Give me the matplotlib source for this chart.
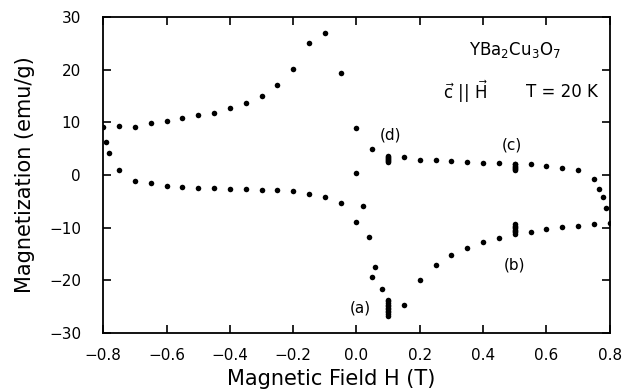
import matplotlib
matplotlib.use("Agg")
import matplotlib.pyplot as plt
import numpy as np

# upper branch (field sweeping down from +0.8 T to -0.8 T)
H_down = [0.80, 0.789, 0.778, 0.767, 0.75, 0.70, 0.65, 0.60, 0.55,
          0.50, 0.50, 0.50, 0.50, 0.50, 0.50, 0.50,
          0.45, 0.40, 0.35, 0.30, 0.25, 0.20, 0.15,
          0.10, 0.10, 0.10, 0.10, 0.10, 0.10, 0.10,
          0.05, 0.0, -0.05, -0.10, -0.15, -0.20, -0.25, -0.30, -0.35,
          -0.40, -0.45, -0.50, -0.55, -0.60, -0.65, -0.70, -0.75, -0.80]
M_down = [-9.1, -6.3, -4.1, -2.7, -0.8, 0.9, 1.4, 1.8, 2.0,
          1.0, 1.2, 1.4, 1.6, 1.8, 2.0, 2.1,
          2.2, 2.3, 2.4, 2.6, 2.8, 2.85, 3.5,
          2.5, 2.7, 2.9, 3.1, 3.3, 3.5, 3.7,
          5.0, 8.85, 19.4, 27.0, 25.1, 20.1, 17.0, 15.0, 13.7,
          12.65, 11.8, 11.3, 10.8, 10.3, 9.9, 9.1, 9.3, 9.1]

# lower branch (field sweeping up from -0.8 T to +0.8 T)
H_up = [-0.79, -0.781, -0.751, -0.70, -0.65, -0.60, -0.55, -0.50, -0.45,
        -0.40, -0.35, -0.30, -0.25, -0.20, -0.15, -0.10, -0.05, 0.0,
        0.02, 0.0, 0.04, 0.06, 0.05, 0.08,
        0.10, 0.10, 0.10, 0.10, 0.10, 0.10, 0.10, 0.10, 0.10, 0.10, 0.10,
        0.15, 0.20, 0.25, 0.30, 0.35, 0.40, 0.45,
        0.50, 0.50, 0.50, 0.50, 0.50, 0.50, 0.50, 0.50,
        0.55, 0.60, 0.65, 0.70, 0.75]
M_up = [6.25, 4.2, 0.9, -1.1, -1.6, -2.0, -2.3, -2.4, -2.5,
        -2.6, -2.7, -2.8, -2.9, -3.0, -3.6, -4.1, -5.3, 0.3,
        -5.9, -8.9, -11.8, -17.4, -19.4, -21.7,
        -23.7, -24.0, -24.3, -24.6, -24.9, -25.2, -25.5, -25.8, -26.1, -26.4, -26.7,
        -24.6, -20.0, -17.1, -15.1, -13.8, -12.8, -11.9,
        -9.4, -9.65, -9.9, -10.15, -10.4, -10.65, -10.9, -11.2,
        -10.8, -10.3, -9.9, -9.6, -9.4]

xticks = [-0.8, -0.6, -0.4, -0.2, 0.0, 0.2, 0.4, 0.6, 0.8]
yticks = [-30, -20, -10, 0, 10, 20, 30]

plt.rcParams['font.family'] = ['DejaVu Sans']

fig = plt.figure(figsize=(6.29, 3.89), dpi=100)
ax = fig.add_axes([0.1642, 0.144, 0.8051, 0.8123])

ax.plot(H_down, M_down, 'o', color='black', ms=4.0, mec='none')
ax.plot(H_up, M_up, 'o', color='black', ms=4.0, mec='none')

ax.set_xlim(-0.8, 0.8)
ax.set_ylim(-30, 30)
ax.set_xticks(xticks)
ax.set_yticks(yticks)
ax.set_xticklabels([f"{t:.1f}".replace('-', '\u2212') for t in xticks])
ax.tick_params(direction='in', length=6, width=1.2, top=True, right=True,
               labelsize=11)
ax.tick_params(axis='x', pad=11)
ax.tick_params(axis='y', pad=16)
for s in ax.spines.values():
    s.set_linewidth(1.3)

ax.set_xlabel('Magnetic Field H (T)', fontsize=15)
ax.set_ylabel('Magnetization (emu/g)', fontsize=15)
ax.xaxis.set_label_coords(0.45, -0.115)
ax.yaxis.set_label_coords(-0.135, 0.5)

ax.text(0.50, 23.7, r'YBa$_2$Cu$_3$O$_7$', fontsize=12, ha='center', va='center')
ax.text(0.345, 15.8, r'$\vec{\mathrm{c}}\ ||\ \vec{\mathrm{H}}$', fontsize=12,
        ha='center', va='center')
ax.text(0.649, 15.8, 'T = 20 K', fontsize=12, ha='center', va='center')

ax.text(0.106, 7.6, '(d)', fontsize=11, ha='center', va='center')
ax.text(0.49, 5.7, '(c)', fontsize=11, ha='center', va='center')
ax.text(0.50, -17.1, '(b)', fontsize=11, ha='center', va='center')
ax.text(0.011, -25.3, '(a)', fontsize=11, ha='center', va='center')

fig.savefig('out.png', dpi=100)
